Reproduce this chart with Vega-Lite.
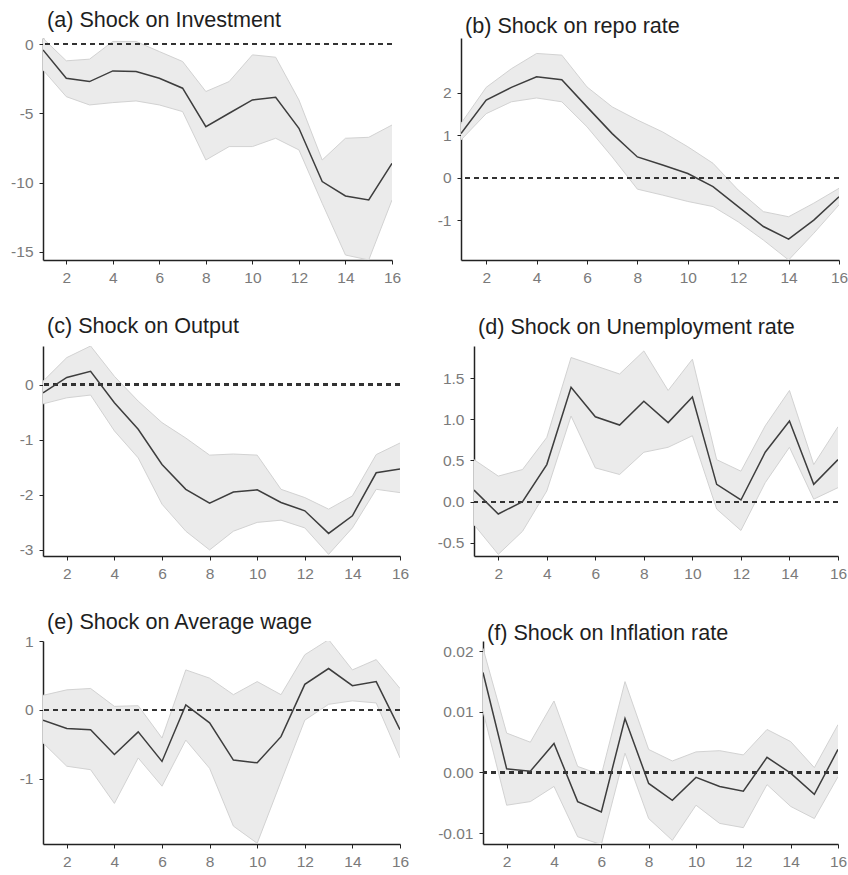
{
  "$schema": "https://vega.github.io/schema/vega-lite/v6.json",
  "padding": {"left": 3, "top": 10, "right": 1, "bottom": 0},
  "background": "white",
  "datasets": {
    "a": [
      {"h": 1, "mean": -0.41, "lo": -1.86, "hi": 0.43},
      {"h": 2, "mean": -2.46, "lo": -3.79, "hi": -1.2},
      {"h": 3, "mean": -2.7, "lo": -4.39, "hi": -1.08},
      {"h": 4, "mean": -1.93, "lo": -4.22, "hi": 0.2},
      {"h": 5, "mean": -1.98, "lo": -4.1, "hi": 0.2},
      {"h": 6, "mean": -2.46, "lo": -4.39, "hi": -0.53},
      {"h": 7, "mean": -3.18, "lo": -4.87, "hi": -1.25},
      {"h": 8, "mean": -5.96, "lo": -8.37, "hi": -3.42},
      {"h": 9, "mean": -4.99, "lo": -7.4, "hi": -2.7},
      {"h": 10, "mean": -4.03, "lo": -7.4, "hi": -0.77},
      {"h": 11, "mean": -3.83, "lo": -6.8, "hi": -0.94},
      {"h": 12, "mean": -6.08, "lo": -7.64, "hi": -4.03},
      {"h": 13, "mean": -9.93, "lo": -11.5, "hi": -8.37},
      {"h": 14, "mean": -10.97, "lo": -15.24, "hi": -6.8},
      {"h": 15, "mean": -11.26, "lo": -15.6, "hi": -6.73},
      {"h": 16, "mean": -8.61, "lo": -11.26, "hi": -5.84}
    ],
    "b": [
      {"h": 1, "mean": 1.04, "lo": 0.89, "hi": 1.28},
      {"h": 2, "mean": 1.83, "lo": 1.51, "hi": 2.13},
      {"h": 3, "mean": 2.13, "lo": 1.79, "hi": 2.57},
      {"h": 4, "mean": 2.38, "lo": 1.88, "hi": 2.93},
      {"h": 5, "mean": 2.31, "lo": 1.79, "hi": 2.89},
      {"h": 6, "mean": 1.67, "lo": 1.2, "hi": 2.14},
      {"h": 7, "mean": 1.04, "lo": 0.49, "hi": 1.67},
      {"h": 8, "mean": 0.49, "lo": -0.27, "hi": 1.36},
      {"h": 9, "mean": 0.3, "lo": -0.41, "hi": 1.08},
      {"h": 10, "mean": 0.1, "lo": -0.56, "hi": 0.73},
      {"h": 11, "mean": -0.21, "lo": -0.68, "hi": 0.34},
      {"h": 12, "mean": -0.68, "lo": -1.04, "hi": -0.29},
      {"h": 13, "mean": -1.15, "lo": -1.47, "hi": -0.8},
      {"h": 14, "mean": -1.45, "lo": -1.94, "hi": -0.92},
      {"h": 15, "mean": -1.0, "lo": -1.31, "hi": -0.6},
      {"h": 16, "mean": -0.45, "lo": -0.64, "hi": -0.25}
    ],
    "c": [
      {"h": 1, "mean": -0.15, "lo": -0.35, "hi": 0.06},
      {"h": 2, "mean": 0.13, "lo": -0.24, "hi": 0.49},
      {"h": 3, "mean": 0.24, "lo": -0.19, "hi": 0.7},
      {"h": 4, "mean": -0.33, "lo": -0.84, "hi": 0.15},
      {"h": 5, "mean": -0.81, "lo": -1.33, "hi": -0.3},
      {"h": 6, "mean": -1.45, "lo": -2.17, "hi": -0.69},
      {"h": 7, "mean": -1.9, "lo": -2.66, "hi": -0.97},
      {"h": 8, "mean": -2.15, "lo": -3.0, "hi": -1.28},
      {"h": 9, "mean": -1.95, "lo": -2.66, "hi": -1.26},
      {"h": 10, "mean": -1.91, "lo": -2.5, "hi": -1.28},
      {"h": 11, "mean": -2.14, "lo": -2.46, "hi": -1.9},
      {"h": 12, "mean": -2.29, "lo": -2.6, "hi": -2.05},
      {"h": 13, "mean": -2.7, "lo": -3.08, "hi": -2.26},
      {"h": 14, "mean": -2.38, "lo": -2.6, "hi": -2.02},
      {"h": 15, "mean": -1.6, "lo": -1.9, "hi": -1.27},
      {"h": 16, "mean": -1.53, "lo": -1.96, "hi": -1.06}
    ],
    "d": [
      {"h": 1, "mean": 0.14, "lo": -0.28, "hi": 0.51},
      {"h": 2, "mean": -0.15, "lo": -0.64, "hi": 0.31},
      {"h": 3, "mean": 0.0, "lo": -0.36, "hi": 0.39},
      {"h": 4, "mean": 0.45, "lo": 0.13, "hi": 0.78},
      {"h": 5, "mean": 1.39, "lo": 1.04, "hi": 1.75},
      {"h": 6, "mean": 1.03, "lo": 0.41, "hi": 1.65},
      {"h": 7, "mean": 0.93, "lo": 0.33, "hi": 1.55},
      {"h": 8, "mean": 1.22, "lo": 0.6, "hi": 1.83},
      {"h": 9, "mean": 0.96, "lo": 0.66, "hi": 1.35},
      {"h": 10, "mean": 1.27, "lo": 0.8, "hi": 1.73},
      {"h": 11, "mean": 0.21, "lo": -0.09, "hi": 0.51},
      {"h": 12, "mean": 0.02, "lo": -0.35, "hi": 0.37},
      {"h": 13, "mean": 0.6, "lo": 0.23, "hi": 0.92},
      {"h": 14, "mean": 0.98, "lo": 0.66, "hi": 1.35},
      {"h": 15, "mean": 0.21, "lo": 0.03, "hi": 0.45},
      {"h": 16, "mean": 0.51, "lo": 0.17, "hi": 0.91}
    ],
    "e": [
      {"h": 1, "mean": -0.15, "lo": -0.48, "hi": 0.21},
      {"h": 2, "mean": -0.27, "lo": -0.82, "hi": 0.29},
      {"h": 3, "mean": -0.29, "lo": -0.87, "hi": 0.31},
      {"h": 4, "mean": -0.65, "lo": -1.36, "hi": 0.05},
      {"h": 5, "mean": -0.32, "lo": -0.7, "hi": 0.06},
      {"h": 6, "mean": -0.75, "lo": -1.11, "hi": -0.41},
      {"h": 7, "mean": 0.07, "lo": -0.44, "hi": 0.58},
      {"h": 8, "mean": -0.19, "lo": -0.85, "hi": 0.46},
      {"h": 9, "mean": -0.73, "lo": -1.69, "hi": 0.22},
      {"h": 10, "mean": -0.77, "lo": -1.94, "hi": 0.41},
      {"h": 11, "mean": -0.39, "lo": -1.04, "hi": 0.22},
      {"h": 12, "mean": 0.37, "lo": -0.15, "hi": 0.8},
      {"h": 13, "mean": 0.6, "lo": 0.08, "hi": 1.02},
      {"h": 14, "mean": 0.35, "lo": 0.13, "hi": 0.58},
      {"h": 15, "mean": 0.41, "lo": 0.1, "hi": 0.73},
      {"h": 16, "mean": -0.29, "lo": -0.7, "hi": 0.31}
    ],
    "f": [
      {"h": 1, "mean": 0.0165, "lo": 0.0101, "hi": 0.0205},
      {"h": 2, "mean": 0.0006, "lo": -0.0054, "hi": 0.0065},
      {"h": 3, "mean": 0.0002, "lo": -0.0048, "hi": 0.005},
      {"h": 4, "mean": 0.0048, "lo": -0.0023, "hi": 0.0118},
      {"h": 5, "mean": -0.0048, "lo": -0.0106, "hi": 0.001},
      {"h": 6, "mean": -0.0065, "lo": -0.0119, "hi": -0.0004},
      {"h": 7, "mean": 0.0089, "lo": 0.0032, "hi": 0.015},
      {"h": 8, "mean": -0.0018, "lo": -0.0076, "hi": 0.0038},
      {"h": 9, "mean": -0.0046, "lo": -0.0112, "hi": 0.0019},
      {"h": 10, "mean": -0.0008, "lo": -0.0054, "hi": 0.0034},
      {"h": 11, "mean": -0.0023, "lo": -0.0084, "hi": 0.0036},
      {"h": 12, "mean": -0.0031, "lo": -0.0091, "hi": 0.0029},
      {"h": 13, "mean": 0.0025, "lo": -0.002, "hi": 0.0071},
      {"h": 14, "mean": -0.0001, "lo": -0.0056, "hi": 0.0051},
      {"h": 15, "mean": -0.0036, "lo": -0.0076, "hi": 0.0008},
      {"h": 16, "mean": 0.0038, "lo": -0.0007, "hi": 0.0079}
    ]
  },
  "concat": [
    {
      "hconcat": [
        {
          "width": 349, "height": 222,
          "title": {"text": "(a) Shock on Investment", "offset": 5.4},
          "data": {"name": "a"},
          "layer": [
            {"mark": {"type": "area", "color": "#ebebeb", "clip": true},
             "encoding": {
               "x": {"field": "h", "type": "quantitative", "scale": {"domain": [1, 16], "nice": false, "zero": false}, "axis": {"title": null, "values": [2, 4, 6, 8, 10, 12, 14, 16], "format": "d"}},
               "y": {"field": "lo", "type": "quantitative", "scale": {"domain": [-15.6, 0.45], "nice": false, "zero": false}, "axis": {"title": null, "values": [-15, -10, -5, 0], "format": "d", "minExtent": 40}},
               "y2": {"field": "hi"}}},
            {"mark": {"type": "line", "color": "#d2d2d2", "strokeWidth": 1, "clip": true}, "encoding": {"x": {"field": "h", "type": "quantitative"}, "y": {"field": "hi", "type": "quantitative"}}},
            {"mark": {"type": "line", "color": "#d2d2d2", "strokeWidth": 1, "clip": true}, "encoding": {"x": {"field": "h", "type": "quantitative"}, "y": {"field": "lo", "type": "quantitative"}}},
            {"mark": {"type": "rule", "color": "#333333", "strokeWidth": 1.5, "strokeDash": [5, 4]}, "encoding": {"y": {"datum": 0, "type": "quantitative"}}},
            {"mark": {"type": "line", "color": "#3d3d3d", "strokeWidth": 1.5, "clip": true}, "encoding": {"x": {"field": "h", "type": "quantitative"}, "y": {"field": "mean", "type": "quantitative"}}}
          ]
        },
        {
          "width": 378, "height": 222,
          "title": {"text": "(b) Shock on repo rate", "offset": 0.3},
          "data": {"name": "b"},
          "layer": [
            {"mark": {"type": "area", "color": "#ebebeb", "clip": true},
             "encoding": {
               "x": {"field": "h", "type": "quantitative", "scale": {"domain": [1, 16], "nice": false, "zero": false}, "axis": {"title": null, "values": [2, 4, 6, 8, 10, 12, 14, 16], "format": "d"}},
               "y": {"field": "lo", "type": "quantitative", "scale": {"domain": [-1.94, 3.294], "nice": false, "zero": false}, "axis": {"title": null, "values": [-1, 0, 1, 2], "format": "d", "minExtent": 40}},
               "y2": {"field": "hi"}}},
            {"mark": {"type": "line", "color": "#d2d2d2", "strokeWidth": 1, "clip": true}, "encoding": {"x": {"field": "h", "type": "quantitative"}, "y": {"field": "hi", "type": "quantitative"}}},
            {"mark": {"type": "line", "color": "#d2d2d2", "strokeWidth": 1, "clip": true}, "encoding": {"x": {"field": "h", "type": "quantitative"}, "y": {"field": "lo", "type": "quantitative"}}},
            {"mark": {"type": "rule", "color": "#333333", "strokeWidth": 1.5, "strokeDash": [5, 4]}, "encoding": {"y": {"datum": 0, "type": "quantitative"}}},
            {"mark": {"type": "line", "color": "#3d3d3d", "strokeWidth": 1.5, "clip": true}, "encoding": {"x": {"field": "h", "type": "quantitative"}, "y": {"field": "mean", "type": "quantitative"}}}
          ]
        }
      ],
      "spacing": 20
    },
    {
      "hconcat": [
        {
          "width": 357, "height": 210,
          "title": {"text": "(c) Shock on Output", "offset": 8.9},
          "data": {"name": "c"},
          "layer": [
            {"mark": {"type": "area", "color": "#ebebeb", "clip": true},
             "encoding": {
               "x": {"field": "h", "type": "quantitative", "scale": {"domain": [1, 16], "nice": false, "zero": false}, "axis": {"title": null, "values": [2, 4, 6, 8, 10, 12, 14, 16], "format": "d"}},
               "y": {"field": "lo", "type": "quantitative", "scale": {"domain": [-3.11, 0.7], "nice": false, "zero": false}, "axis": {"title": null, "values": [-3, -2, -1, 0], "format": "d", "minExtent": 40}},
               "y2": {"field": "hi"}}},
            {"mark": {"type": "line", "color": "#d2d2d2", "strokeWidth": 1, "clip": true}, "encoding": {"x": {"field": "h", "type": "quantitative"}, "y": {"field": "hi", "type": "quantitative"}}},
            {"mark": {"type": "line", "color": "#d2d2d2", "strokeWidth": 1, "clip": true}, "encoding": {"x": {"field": "h", "type": "quantitative"}, "y": {"field": "lo", "type": "quantitative"}}},
            {"mark": {"type": "rule", "color": "#333333", "strokeWidth": 1.5, "strokeDash": [5, 4]}, "encoding": {"y": {"datum": 0, "type": "quantitative"}}},
            {"mark": {"type": "line", "color": "#3d3d3d", "strokeWidth": 1.5, "clip": true}, "encoding": {"x": {"field": "h", "type": "quantitative"}, "y": {"field": "mean", "type": "quantitative"}}}
          ]
        },
        {
          "width": 364, "height": 210,
          "title": {"text": "(d) Shock on Unemployment rate", "offset": 7.3},
          "data": {"name": "d"},
          "layer": [
            {"mark": {"type": "area", "color": "#ebebeb", "clip": true},
             "encoding": {
               "x": {"field": "h", "type": "quantitative", "scale": {"domain": [1, 16], "nice": false, "zero": false}, "axis": {"title": null, "values": [2, 4, 6, 8, 10, 12, 14, 16], "format": "d"}},
               "y": {"field": "lo", "type": "quantitative", "scale": {"domain": [-0.66, 1.89], "nice": false, "zero": false}, "axis": {"title": null, "values": [-0.5, 0, 0.5, 1, 1.5], "format": ".1f", "minExtent": 45}},
               "y2": {"field": "hi"}}},
            {"mark": {"type": "line", "color": "#d2d2d2", "strokeWidth": 1, "clip": true}, "encoding": {"x": {"field": "h", "type": "quantitative"}, "y": {"field": "hi", "type": "quantitative"}}},
            {"mark": {"type": "line", "color": "#d2d2d2", "strokeWidth": 1, "clip": true}, "encoding": {"x": {"field": "h", "type": "quantitative"}, "y": {"field": "lo", "type": "quantitative"}}},
            {"mark": {"type": "rule", "color": "#333333", "strokeWidth": 1.5, "strokeDash": [5, 4]}, "encoding": {"y": {"datum": 0, "type": "quantitative"}}},
            {"mark": {"type": "line", "color": "#3d3d3d", "strokeWidth": 1.5, "clip": true}, "encoding": {"x": {"field": "h", "type": "quantitative"}, "y": {"field": "mean", "type": "quantitative"}}}
          ]
        }
      ],
      "spacing": 20
    },
    {
      "hconcat": [
        {
          "width": 357, "height": 203,
          "title": {"text": "(e) Shock on Average wage", "offset": 0.9},
          "data": {"name": "e"},
          "layer": [
            {"mark": {"type": "area", "color": "#ebebeb", "clip": true},
             "encoding": {
               "x": {"field": "h", "type": "quantitative", "scale": {"domain": [1, 16], "nice": false, "zero": false}, "axis": {"title": null, "values": [2, 4, 6, 8, 10, 12, 14, 16], "format": "d"}},
               "y": {"field": "lo", "type": "quantitative", "scale": {"domain": [-1.95, 1.0], "nice": false, "zero": false}, "axis": {"title": null, "values": [-1, 0, 1], "format": "d", "minExtent": 32}},
               "y2": {"field": "hi"}}},
            {"mark": {"type": "line", "color": "#d2d2d2", "strokeWidth": 1, "clip": true}, "encoding": {"x": {"field": "h", "type": "quantitative"}, "y": {"field": "hi", "type": "quantitative"}}},
            {"mark": {"type": "line", "color": "#d2d2d2", "strokeWidth": 1, "clip": true}, "encoding": {"x": {"field": "h", "type": "quantitative"}, "y": {"field": "lo", "type": "quantitative"}}},
            {"mark": {"type": "rule", "color": "#333333", "strokeWidth": 1.5, "strokeDash": [5, 4]}, "encoding": {"y": {"datum": 0, "type": "quantitative"}}},
            {"mark": {"type": "line", "color": "#3d3d3d", "strokeWidth": 1.5, "clip": true}, "encoding": {"x": {"field": "h", "type": "quantitative"}, "y": {"field": "mean", "type": "quantitative"}}}
          ]
        },
        {
          "width": 355, "height": 203,
          "title": {"text": "(f) Shock on Inflation rate", "offset": -3.1},
          "data": {"name": "f"},
          "layer": [
            {"mark": {"type": "area", "color": "#ebebeb", "clip": true},
             "encoding": {
               "x": {"field": "h", "type": "quantitative", "scale": {"domain": [1, 16], "nice": false, "zero": false}, "axis": {"title": null, "values": [2, 4, 6, 8, 10, 12, 14, 16], "format": "d"}},
               "y": {"field": "lo", "type": "quantitative", "scale": {"domain": [-0.0118, 0.0217], "nice": false, "zero": false}, "axis": {"title": null, "values": [-0.01, 0, 0.01, 0.02], "format": ".2f", "minExtent": 50}},
               "y2": {"field": "hi"}}},
            {"mark": {"type": "line", "color": "#d2d2d2", "strokeWidth": 1, "clip": true}, "encoding": {"x": {"field": "h", "type": "quantitative"}, "y": {"field": "hi", "type": "quantitative"}}},
            {"mark": {"type": "line", "color": "#d2d2d2", "strokeWidth": 1, "clip": true}, "encoding": {"x": {"field": "h", "type": "quantitative"}, "y": {"field": "lo", "type": "quantitative"}}},
            {"mark": {"type": "rule", "color": "#333333", "strokeWidth": 1.5, "strokeDash": [5, 4]}, "encoding": {"y": {"datum": 0, "type": "quantitative"}}},
            {"mark": {"type": "line", "color": "#3d3d3d", "strokeWidth": 1.5, "clip": true}, "encoding": {"x": {"field": "h", "type": "quantitative"}, "y": {"field": "mean", "type": "quantitative"}}}
          ]
        }
      ],
      "spacing": 24
    }
  ],
  "columns": 1,
  "spacing": 29,
  "align": "none",
  "config": {
    "view": {"stroke": null},
    "title": {"anchor": "start", "frame": "group", "dx": 4, "font": "Liberation Sans", "fontSize": 21.6, "fontWeight": "normal", "color": "#1e1e1e"},
    "axis": {
      "grid": false,
      "domainColor": "#222222",
      "domainWidth": 1.5,
      "tickColor": "#222222",
      "tickWidth": 1,
      "tickSize": 4,
      "labelColor": "#7a7a7a",
      "labelFont": "Liberation Sans",
      "labelFontSize": 15.5,
      "labelPadding": 6,
      "labelFlush": false,
      "labelOverlap": false,
      "labelExpr": "replace(datum.label, '\u2212', '-')"
    }
  }
}
